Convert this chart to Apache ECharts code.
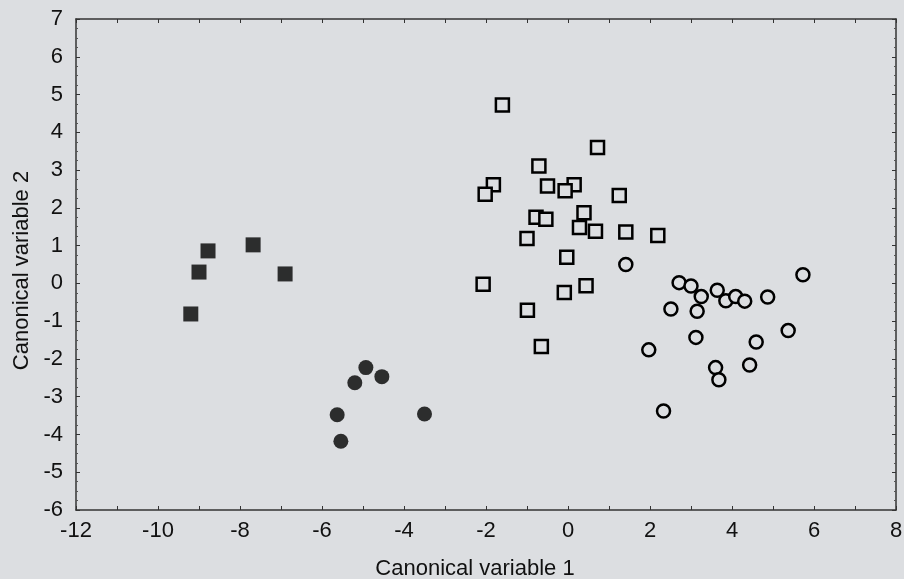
<!DOCTYPE html>
<html>
<head>
    <meta charset="utf-8"/>
    <title>Canonical variables</title>
    <script src="https://cdn.jsdelivr.net/npm/echarts@6/dist/echarts.min.js"></script>
    <style>
        html, body { margin: 0; padding: 0; background: #dcdee1; }
    </style>
</head>
<body>
<div id="main" style="width: 904px; height: 579px;"></div>
<script type="text/javascript">

    // group 1: filled squares
    var filledSquares = [
        [-8.78, 0.86], [-9.00, 0.30], [-7.68, 1.02], [-6.90, 0.25], [-9.20, -0.81]
    ];
    // group 2: filled circles
    var filledCircles = [
        [-4.93, -2.23], [-5.20, -2.63], [-4.54, -2.47], [-5.63, -3.48], [-5.54, -4.18], [-3.50, -3.46]
    ];
    // group 3: open squares
    var openSquares = [
        [-1.60, 4.72], [0.72, 3.60], [-0.71, 3.11], [-1.82, 2.61], [-2.02, 2.36],
        [-0.50, 2.58], [0.15, 2.61], [-0.07, 2.45], [1.25, 2.33], [-0.78, 1.75],
        [-0.54, 1.70], [0.39, 1.87], [0.28, 1.48], [0.67, 1.38], [-1.00, 1.19],
        [1.41, 1.36], [2.19, 1.27], [-0.03, 0.69], [-2.07, -0.02], [-0.09, -0.24],
        [0.44, -0.06], [-0.99, -0.71], [-0.65, -1.67]
    ];
    // group 4: open circles
    var openCircles = [
        [1.41, 0.50], [5.73, 0.23], [2.71, 0.02], [3.00, -0.07], [3.25, -0.35],
        [3.64, -0.18], [3.85, -0.46], [4.09, -0.35], [4.31, -0.47], [4.87, -0.36],
        [2.51, -0.68], [3.15, -0.74], [3.12, -1.43], [5.37, -1.25], [4.59, -1.55],
        [1.97, -1.76], [3.60, -2.23], [3.68, -2.55], [4.43, -2.16], [2.33, -3.38]
    ];

    var bg = '#dcdee1';
    var ink = '#111';
    var font = 'Liberation Sans, Arial, sans-serif';

    var myChart = echarts.init(document.getElementById('main'));

    myChart.setOption({
        backgroundColor: bg,
        animation: false,
        grid: { left: 76, right: 8, top: 19, bottom: 69, outerBoundsMode: 'none', containLabel: false },
        xAxis: [{
            type: 'value',
            min: -12, max: 8, interval: 1,
            name: 'Canonical variable 1',
            nameLocation: 'middle',
            nameGap: 48,
            nameTextStyle: { color: ink, fontSize: 22, fontFamily: font, padding: [0, 22, 0, 0] },
            axisLine: { show: true, onZero: false, lineStyle: { color: '#333', width: 1.5 } },
            axisTick: { show: true, inside: true, length: 4, lineStyle: { color: '#333' } },
            axisLabel: {
                color: ink, fontSize: 22, fontFamily: font, margin: 10,
                formatter: function (v) { return v % 2 === 0 ? String(v) : ''; }
            },
            splitLine: { show: false }
        }, {
            type: 'value', position: 'top',
            min: -12, max: 8, interval: 1,
            axisLine: { show: true, onZero: false, lineStyle: { color: '#333', width: 1.5 } },
            axisTick: { show: true, inside: true, length: 4, lineStyle: { color: '#333' } },
            axisLabel: { show: false },
            splitLine: { show: false }
        }],
        yAxis: [{
            type: 'value',
            min: -6, max: 7, interval: 1,
            name: 'Canonical variable 2',
            nameLocation: 'middle',
            nameGap: 43,
            nameTextStyle: { color: ink, fontSize: 22, fontFamily: font, padding: [0, 12, 0, 0] },
            axisLine: { show: true, onZero: false, lineStyle: { color: '#333', width: 1.5 } },
            axisTick: { show: true, inside: true, length: 4, lineStyle: { color: '#333' } },
            minorTick: { show: true, splitNumber: 4, length: 2, lineStyle: { color: '#555' } },
            axisLabel: { color: ink, fontSize: 22, fontFamily: font, margin: 13 },
            splitLine: { show: false }
        }, {
            type: 'value', position: 'right',
            min: -6, max: 7, interval: 1,
            axisLine: { show: true, onZero: false, lineStyle: { color: '#333', width: 1.5 } },
            axisTick: { show: true, inside: true, length: 4, lineStyle: { color: '#333' } },
            minorTick: { show: true, splitNumber: 4, length: 2, lineStyle: { color: '#555' } },
            axisLabel: { show: false },
            splitLine: { show: false }
        }],
        series: [
            {
                type: 'scatter', data: filledSquares,
                symbol: 'rect', symbolSize: 15,
                itemStyle: { color: '#000' }
            },
            {
                type: 'scatter', data: filledCircles,
                symbol: 'circle', symbolSize: 15,
                itemStyle: { color: '#000' }
            },
            {
                type: 'scatter', data: openSquares,
                symbol: 'rect', symbolSize: 13,
                itemStyle: { color: bg, borderColor: '#000', borderWidth: 2.5, opacity: 1 }
            },
            {
                type: 'scatter', data: openCircles,
                symbol: 'circle', symbolSize: 13,
                itemStyle: { color: bg, borderColor: '#000', borderWidth: 2.5, opacity: 1 }
            }
        ]
    });
</script>
</body>
</html>
